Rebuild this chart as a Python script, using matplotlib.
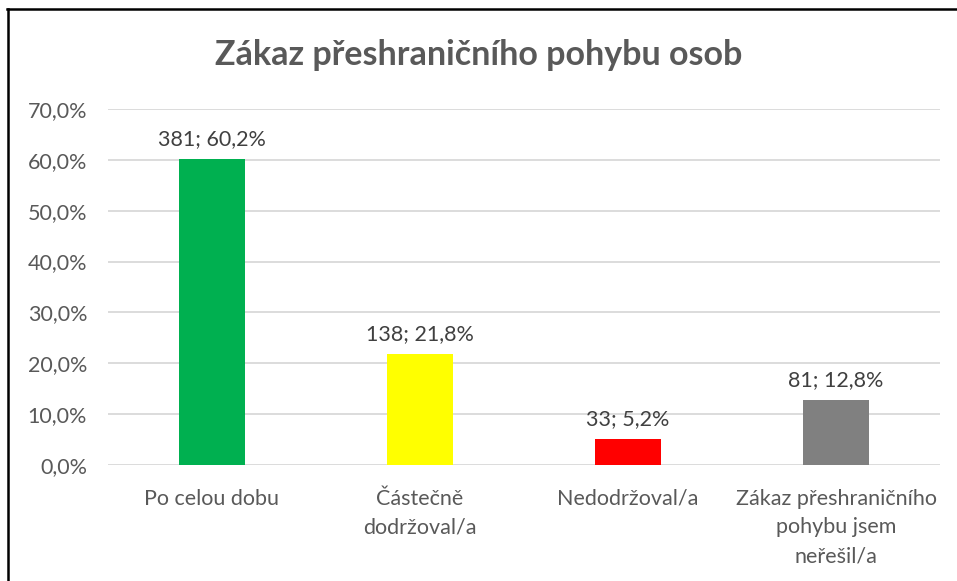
import matplotlib
matplotlib.use("Agg")
import matplotlib.pyplot as plt
from matplotlib.lines import Line2D
from matplotlib.ticker import FuncFormatter

categories = ["Po celou dobu", "Částečně\ndodržoval/a", "Nedodržoval/a",
              "Zákaz přeshraničního\npohybu jsem\nneřešil/a"]
percents = [60.2, 21.8, 5.2, 12.8]
counts = [381, 138, 33, 81]
colors = ["#00B050", "#FFFF00", "#FF0000", "#808080"]
title = "Zákaz přeshraničního pohybu osob"

plt.rcParams['font.family'] = ['Lato', 'DejaVu Sans']

W, H = 957, 581
fig = plt.figure(figsize=(W/100, H/100), dpi=100)
ax = fig.add_axes([108/W, 1-465/H, 832/W, (465-109)/H])

x = list(range(len(categories)))
bars = ax.bar(x, percents, width=0.317, color=colors, zorder=3)
ax.set_xlim(-0.5, len(categories)-0.5)
ax.set_ylim(0, 70)
ax.set_yticks(range(0, 71, 10))
ax.yaxis.set_major_formatter(FuncFormatter(lambda v, p: f"{v:.1f}".replace(".", ",") + "%"))
ax.grid(axis='y', color='#D9D9D9', linewidth=1.3, zorder=0)
for s in ax.spines.values():
    s.set_visible(False)
ax.tick_params(axis='both', length=0, colors='#595959', labelsize=15.5)
ax.tick_params(axis='y', pad=15)
ax.set_xticks(x)
ax.set_xticklabels(categories, linespacing=1.55, va='top')
ax.tick_params(axis='x', pad=17)

for xi, p, c in zip(x, percents, counts):
    ax.annotate(f"{c}; " + f"{p:.1f}".replace(".", ",") + "%", (xi, p),
                xytext=(0, 7), textcoords='offset points', ha='center', va='bottom',
                fontsize=15.5, color='#404040')

fig.text(0.5, 1-55/H, title, ha='center', va='center', fontsize=24.5,
         fontweight='bold', color='#595959')

fig.add_artist(Line2D([7/W, 1], [1-9/H, 1-9/H], color='black', linewidth=1.8))
fig.add_artist(Line2D([8/W, 8/W], [0, 1-9/H], color='black', linewidth=1.8))

fig.savefig("out.png", dpi=100)
